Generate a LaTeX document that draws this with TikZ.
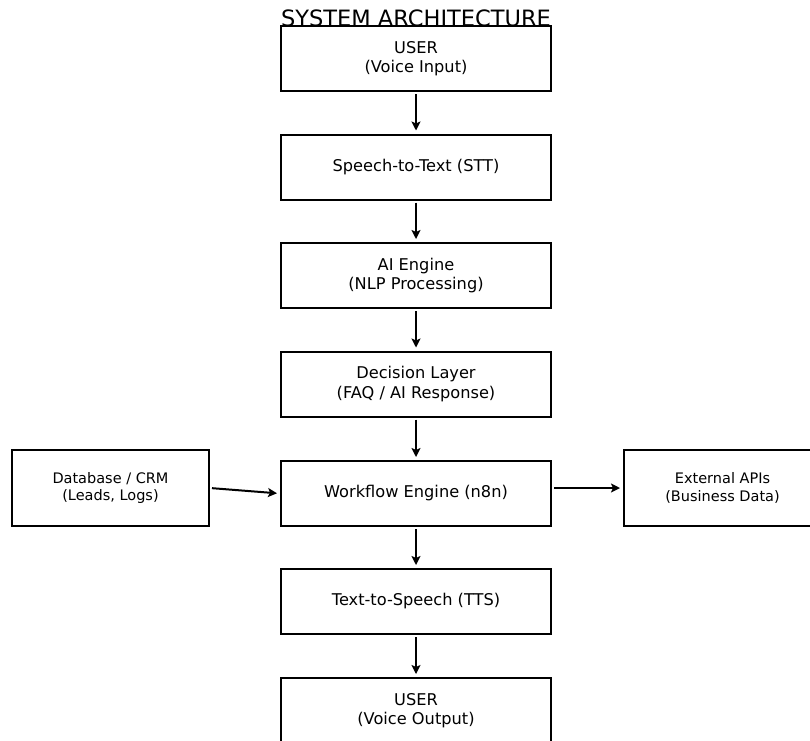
\documentclass[tikz,border=0pt]{standalone}
\usepackage{fontspec}
\setmainfont{DejaVu Sans}
\usetikzlibrary{arrows.meta}
\begin{document}
\begin{tikzpicture}[x=1pt,y=-1pt,
  box/.style={draw=black, line width=2pt, fill=white, minimum width=270pt, minimum height=65pt, inner sep=0pt, align=center, font=\fontsize{16.2}{19.5}\selectfont},
  sidebox/.style={draw=black, line width=2pt, fill=white, minimum width=197pt, minimum height=76pt, inner sep=0pt, align=center, font=\fontsize{14.5}{17.5}\selectfont},
  arr/.style={line width=2pt, -{Stealth[length=9pt,width=9pt,inset=2pt]}, shorten >=3pt, shorten <=2pt}]
\useasboundingbox (0,0) rectangle (810,740);
\node[anchor=base, font=\fontsize{22.5}{26}\selectfont] (title) at (416,26) {SYSTEM ARCHITECTURE};
\node[box] (u1) at (416,58.5) {USER\\(Voice Input)};
\node[box] (stt) at (416,167) {Speech-to-Text (STT)};
\node[box] (ai) at (416,275.5) {AI Engine\\(NLP Processing)};
\node[box] (dec) at (416,384) {Decision Layer\\(FAQ / AI Response)};
\node[box] (wf) at (416,493.5) {Workflow Engine (n8n)};
\node[box] (tts) at (416,601.5) {Text-to-Speech (TTS)};
\node[box] (u2) at (416,710.5) {USER\\(Voice Output)};
\node[sidebox] (db) at (110.5,488) {Database / CRM\\(Leads, Logs)};
\node[sidebox] (ext) at (722.5,488) {External APIs\\(Business Data)};
\draw[arr] (u1) -- (stt);
\draw[arr] (stt) -- (ai);
\draw[arr] (ai) -- (dec);
\draw[arr] (dec) -- (wf);
\draw[arr] (wf) -- (tts);
\draw[arr] (tts) -- (u2);
\draw[arr] (db.east) -- (wf.west);
\draw[arr] (wf.east |- ext.west) -- (ext.west);
\end{tikzpicture}
\end{document}
